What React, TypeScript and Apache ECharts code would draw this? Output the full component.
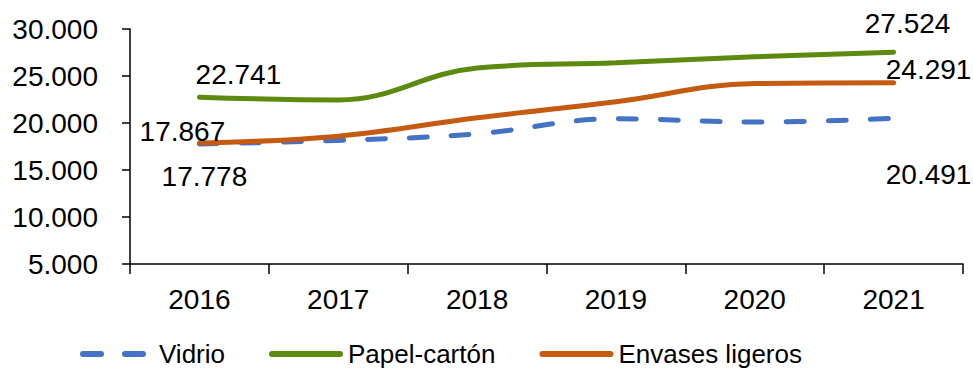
import React, { useEffect, useRef } from "react";
import * as echarts from "echarts";

const years = ["2016", "2017", "2018", "2019", "2020", "2021"];
const vidrio = [17778, 18150, 18850, 20450, 20100, 20491];
const papel = [22741, 22450, 25850, 26400, 27050, 27524];
const envases = [17867, 18600, 20550, 22250, 24200, 24291];
const yTicks = { min: 5000, max: 30000, interval: 5000 };

const FONT = "Liberation Sans";

function fmt(v: number): string {
  return String(Math.round(v)).replace(/\B(?=(\d{3})+(?!\d))/g, ".");
}

type LabelCfg = { position: string; offset: [number, number] };

function withLabels(values: number[], cfg: Record<number, LabelCfg>) {
  return values.map((v, i) => {
    const c = cfg[i];
    if (!c) return { value: v, label: { show: false } };
    return {
      value: v,
      label: {
        show: true,
        position: c.position,
        offset: c.offset,
        formatter: (p: any) => fmt(p.value),
        fontFamily: FONT,
        fontSize: 28,
        color: "#000",
      },
    };
  });
}

export default function App() {
  const ref = useRef<HTMLDivElement>(null);
  useEffect(() => {
    if (!ref.current) return;
    const chart = echarts.init(ref.current, undefined, { renderer: "svg" });
    const lw = 5;
    chart.setOption({
      animation: false,
      textStyle: { fontFamily: FONT },
      grid: { left: 130, right: 10, top: 29, bottom: 105, containLabel: false },
      legend: {
        top: 340,
        left: 80,
        padding: 0,
        itemWidth: 68,
        itemHeight: 8,
        itemGap: 44,
        textStyle: { fontFamily: FONT, fontSize: 26, color: "#000", lineHeight: 28, padding: [0, 0, 0, 3] },
        itemStyle: { color: "rgba(0,0,0,0)", borderColor: "rgba(0,0,0,0)", borderWidth: 0 },
        lineStyle: { width: 6, cap: "round" },
        data: ["Vidrio", "Papel-cartón", "Envases ligeros"],
      },
      xAxis: {
        type: "category",
        data: years,
        boundaryGap: true,
        axisLine: { lineStyle: { color: "#000", width: 1.5 } },
        axisTick: { show: true, length: 10, lineStyle: { color: "#000", width: 1.5 } },
        axisLabel: { color: "#000", fontSize: 28, fontFamily: FONT, margin: 21 },
        splitLine: { show: false },
      },
      yAxis: {
        type: "value",
        min: yTicks.min,
        max: yTicks.max,
        interval: yTicks.interval,
        axisLine: { show: true, lineStyle: { color: "#000", width: 1.5 } },
        axisTick: { show: true, length: 8, lineStyle: { color: "#000", width: 1.5 } },
        axisLabel: { color: "#000", fontSize: 28, fontFamily: FONT, margin: 32, formatter: (v: number) => fmt(v) },
        splitLine: { show: false },
      },
      series: [
        {
          name: "Vidrio",
          type: "line",
          smooth: 0.4,
          symbol: "circle",
          symbolSize: 0,
          showSymbol: true,
          itemStyle: { color: "#4472C4" },
          lineStyle: { color: "#4472C4", width: lw, type: [18, 24], cap: "round" },
          data: withLabels(vidrio, {
            0: { position: "bottom", offset: [5, 14] },
            5: { position: "bottom", offset: [35, 37] },
          }),
          z: 2,
        },
        {
          name: "Papel-cartón",
          type: "line",
          smooth: 0.4,
          symbol: "circle",
          symbolSize: 0,
          showSymbol: true,
          itemStyle: { color: "#5B8A0F" },
          lineStyle: { color: "#5B8A0F", width: lw, cap: "round" },
          data: withLabels(papel, {
            0: { position: "top", offset: [39, -4] },
            5: { position: "top", offset: [14, -10] },
          }),
          z: 3,
        },
        {
          name: "Envases ligeros",
          type: "line",
          smooth: 0.4,
          symbol: "circle",
          symbolSize: 0,
          showSymbol: true,
          itemStyle: { color: "#C55A11" },
          lineStyle: { color: "#C55A11", width: lw, cap: "round" },
          data: withLabels(envases, {
            0: { position: "top", offset: [-17, 7] },
            5: { position: "top", offset: [35, 6] },
          }),
          z: 4,
        },
      ],
    });
    return () => chart.dispose();
  }, []);
  return <div ref={ref} style={{ width: 973, height: 369, position: "absolute", left: 0, top: 0 }} />;
}
